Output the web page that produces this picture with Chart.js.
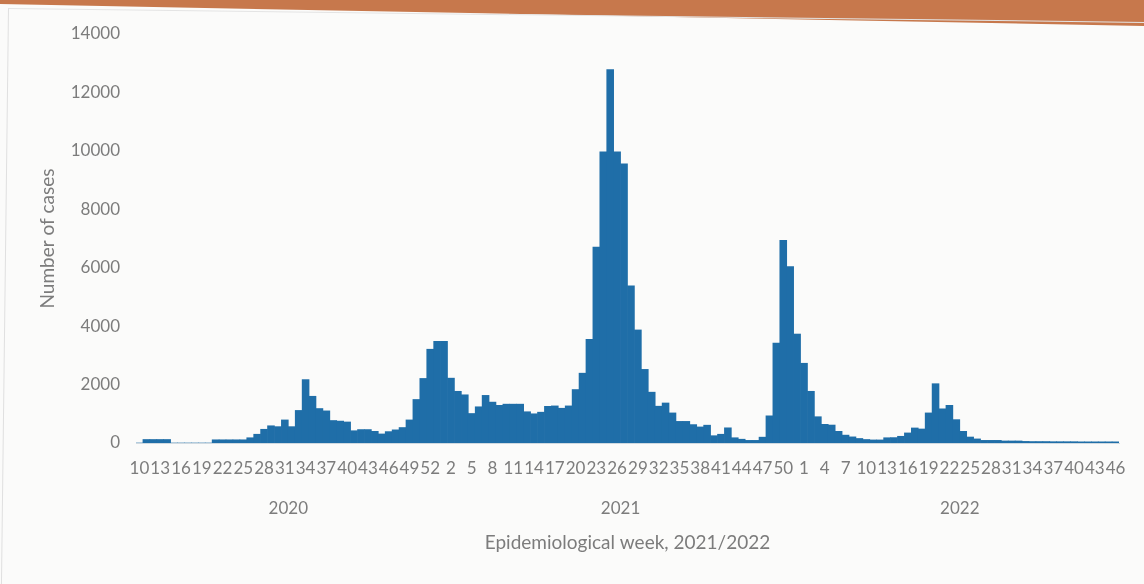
<!DOCTYPE html>
<html>
<head>
<meta charset="utf-8">
<title>Epidemiological week</title>
<script src="https://cdn.jsdelivr.net/npm/chart.js@4.4.1/dist/chart.umd.min.js"></script>
<style>
  html, body { margin: 0; padding: 0; background: #fbfbfa; }
  #wrap { position: relative; width: 1144px; height: 584px; overflow: hidden; }
  #band { position: absolute; left: 0; top: 0; width: 1144px; height: 32px; background: #c7784c;
          clip-path: polygon(0 0, 100% 0, 100% 26px, 0 4px); }
  #card { position: absolute; left: 8px; top: 8px; width: 1200px; height: 620px;
          border-left: 1px solid #e0e0e0; border-top: 1px solid #e4e4e4;
          transform: rotate(0.7deg); transform-origin: 0 0; }
  #chart { position: absolute; left: 0; top: 0; }
</style>
</head>
<body>
<div id="wrap">
  <div id="band"></div>
  <div id="card"></div>
  <canvas id="chart" width="1144" height="584"></canvas>
</div>
<script>
// year, first week, last week
const weekRanges = [[2020, 10, 53], [2021, 1, 52], [2022, 1, 46]];

// weekly cases
const cases2020 = [0, 120, 120, 120, 120, 0, 0, 0, 0, 0, 0, 110, 110, 110, 110, 110,
    180, 300, 470, 590, 560, 790, 560, 1115, 2170, 1600, 1180, 1100, 770, 750, 720, 420,
    460, 460, 400, 310, 390, 450, 530, 790, 1490, 2210, 3210, 3480];
const cases2021 = [3480, 2220, 1770, 1650, 1010, 1240, 1630, 1400, 1290, 1330,
    1330, 1330, 1070, 1000, 1055, 1255, 1270, 1190, 1270, 1830,
    2390, 3550, 6710, 9970, 12780, 9970, 9560, 5380, 3870, 2520,
    1740, 1260, 1370, 1030, 740, 740, 630, 550, 610, 250,
    300, 520, 180, 130, 90, 90, 200, 930, 3420, 6940,
    6040, 3730];
const cases2022 = [2730, 1770, 900, 640, 615, 400, 270, 210, 155, 120,
    105, 105, 180, 185, 230, 345, 515, 480, 1030, 2030,
    1170, 1290, 800, 400, 205, 140, 90, 90, 90, 70,
    70, 70, 55, 50, 50, 50, 45, 45, 45, 45,
    40, 40, 40, 40, 40, 40];

const yTicks = [0, 2000, 4000, 6000, 8000, 10000, 12000, 14000];

const textColor = '#7c7c7c';
const barColor = '#1f6ea8';
const labelFont = { family: 'Lato', size: 17 };
const titleFont = { family: 'Lato', size: 19 };

// plot box: left edge 136, right padding 25 on a 1144 wide canvas
const plotLeft = 136;
const plotRightPad = 25;

// week labels, plus a second row with the year under the middle of each group
const weekLabels = [];
const yearLabels = [];
weekRanges.forEach(function (range) {
    var start = weekLabels.length;
    var count = range[2] - range[1] + 1;
    for (let w = range[1]; w <= range[2]; w++) {
        weekLabels.push(String(w));
        yearLabels.push('');
    }
    // every group has an even number of weeks: put the year on the left-middle week
    yearLabels[start + Math.floor((count - 1) / 2)] = String(range[0]);
});

const cases = cases2020.concat(cases2021, cases2022);

// half a week, in pixels, to move the year onto the group centre
const halfWeek = (1144 - plotLeft - plotRightPad) / weekLabels.length / 2;

var chart = new Chart(document.getElementById('chart'), {
    type: 'bar',
    data: {
        labels: weekLabels,
        datasets: [{
            data: cases,
            backgroundColor: barColor,
            borderWidth: 0,
            barPercentage: 1,
            categoryPercentage: 1,
            xAxisID: 'x',
            yAxisID: 'y'
        }]
    },
    options: {
        responsive: false,
        animation: false,
        layout: {
            padding: { top: 34, right: plotRightPad, bottom: 0, left: 0 }
        },
        plugins: {
            legend: { display: false },
            tooltip: { enabled: false }
        },
        scales: {
            y: {
                min: 0,
                max: 14000,
                afterBuildTicks: function (axis) {
                    axis.ticks = yTicks.map(function (v) { return { value: v }; });
                },
                ticks: {
                    padding: 16,
                    color: textColor,
                    font: labelFont,
                    callback: function (value) { return String(value); }
                },
                grid: { display: false, drawTicks: false },
                border: { display: false },
                title: {
                    display: true,
                    text: 'Number of cases',
                    color: textColor,
                    font: titleFont,
                    padding: { top: 36, bottom: 0 }
                },
                afterFit: function (scale) { scale.width = plotLeft; }
            },
            x: {
                type: 'category',
                position: 'bottom',
                weight: 0,
                offset: true,
                grid: { display: false, drawTicks: false },
                border: { display: true, color: '#cfd9e0', width: 1 },
                ticks: {
                    autoSkip: false,
                    maxRotation: 0,
                    minRotation: 0,
                    padding: 15,
                    color: textColor,
                    font: labelFont,
                    callback: function (value, index) {
                        return index % 3 === 0 ? this.getLabelForValue(value) : '';
                    }
                },
                afterFit: function (scale) { scale.height = 46; }
            },
            x2: {
                type: 'category',
                position: 'bottom',
                weight: 1,
                offset: true,
                labels: yearLabels,
                grid: { display: false, drawTicks: false },
                border: { display: false },
                ticks: {
                    autoSkip: false,
                    maxRotation: 0,
                    minRotation: 0,
                    padding: 9,
                    labelOffset: halfWeek,
                    color: textColor,
                    font: labelFont,
                    callback: function (value, index) {
                        return yearLabels[index] || '';
                    }
                },
                title: {
                    display: true,
                    text: 'Epidemiological week, 2021/2022',
                    color: textColor,
                    font: titleFont,
                    padding: { top: 0, bottom: 30 }
                },
                afterFit: function (scale) { scale.height = 95; }
            }
        }
    }
});
</script>
</body>
</html>
